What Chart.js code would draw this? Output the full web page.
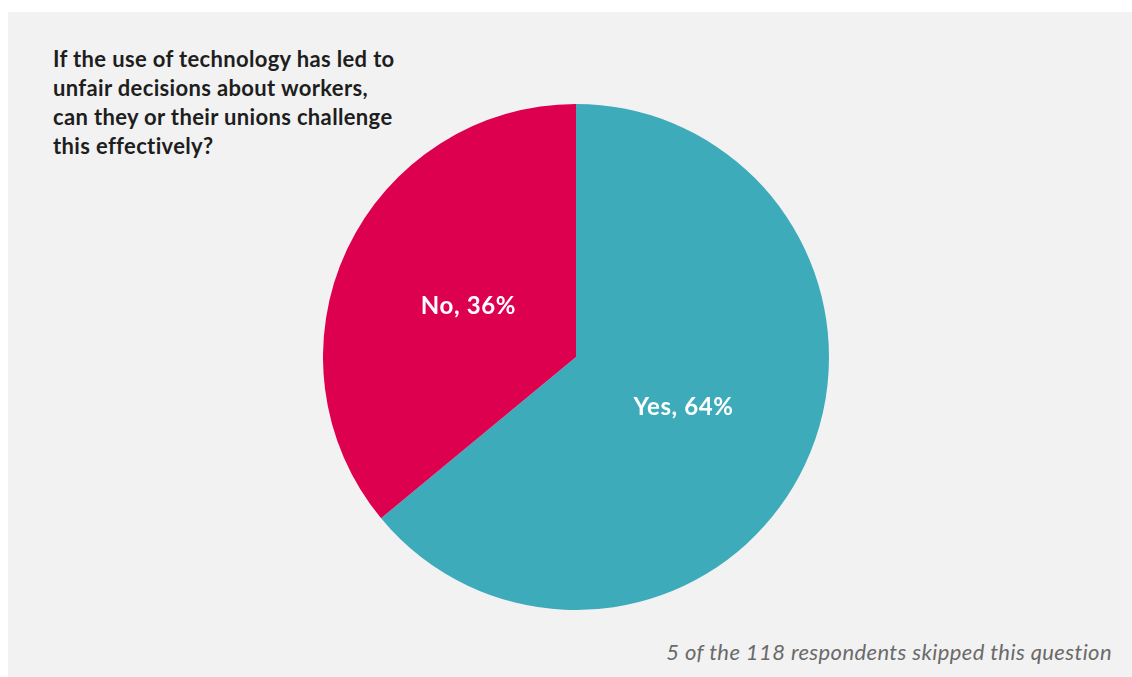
<!DOCTYPE html>
<html>
<head>
<meta charset="utf-8">
<script src="https://cdn.jsdelivr.net/npm/chart.js@4"></script>
<style>
  html, body { margin: 0; padding: 0; background: #fff; }
  body { width: 1132px; height: 677px; position: relative; overflow: hidden; }
  .panel { position: absolute; left: 8px; top: 12px; width: 1124px; height: 665px; background: #f2f2f2; }
  .question {
    position: absolute; left: 45px; top: 32px;
    font-family: Lato, "Noto Sans", sans-serif; font-weight: 700;
    font-size: 22px; line-height: 29px; letter-spacing: 0.35px; color: #1e1e1e;
  }
  .note {
    position: absolute; right: 20px; top: 626px;
    font-family: Lato, "Noto Sans", sans-serif; font-style: italic;
    font-size: 22px; letter-spacing: 0.4px; color: #6a6a6a;
  }
  .pie { position: absolute; left: 315px; top: 92px; width: 506px; height: 506px; }
</style>
</head>
<body>
<div class="panel">
  <div class="question">If the use of technology has led to<br>unfair decisions about workers,<br>can they or their unions challenge<br>this effectively?</div>
  <div class="pie"><canvas id="chart"></canvas></div>
  <div class="note">5 of the 118 respondents skipped this question</div>
</div>
<script>
const answers = ['Yes', 'No'];
const shares = [64, 36];
const sliceColors = ['#3eabbb', '#dc004e'];

// writes "Answer, NN%" inside each slice, halfway out along its middle angle
const sliceLabels = {
  id: 'sliceLabels',
  afterDatasetsDraw(chart){
    const ctx = chart.ctx;
    const meta = chart.getDatasetMeta(0);
    ctx.save();
    ctx.fillStyle = '#ffffff';
    ctx.font = '700 24px Lato, "Noto Sans", sans-serif';
    ctx.letterSpacing = '0.6px';
    ctx.textAlign = 'center';
    ctx.textBaseline = 'middle';
    meta.data.forEach((arc, i) => {
      const mid = (arc.startAngle + arc.endAngle) / 2;
      const r = arc.outerRadius * 0.47;
      const x = arc.x + Math.cos(mid) * r;
      const y = arc.y + Math.sin(mid) * r;
      ctx.fillText(`${answers[i]}, ${shares[i]}%`, x, y);
    });
    ctx.restore();
  }
};

new Chart(document.getElementById('chart'), {
  type: 'pie',
  data: {
    labels: answers,
    datasets: [{ data: shares, backgroundColor: sliceColors, borderWidth: 0, hoverOffset: 0 }]
  },
  options: {
    responsive: true,
    maintainAspectRatio: false,
    animation: false,
    layout: { padding: 0 },
    plugins: { legend: { display: false }, tooltip: { enabled: false } }
  },
  plugins: [sliceLabels]
});
</script>
</body>
</html>
